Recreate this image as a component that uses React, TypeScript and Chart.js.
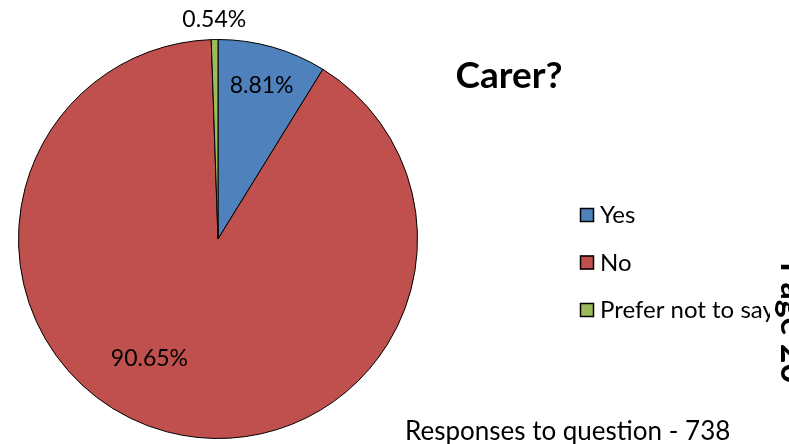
import React, { useEffect, useRef } from "react";
import { Chart, registerables } from "chart.js";

Chart.register(...registerables);

const categories = ["Yes", "No", "Prefer not to say"];
const values = [8.81, 90.65, 0.54];
const colors = ["#4F81BD", "#C0504D", "#9BBB59"];
const title = "Carer?";
const footnote = "Responses to question - 738";
const pageText = "Page 20";

// label placement: radius fraction and angle offset (deg) per slice
const labelRadius = [0.8, 0.69, 1.1];
const labelAngleOffset = [0, 15, 0];

const FONT = "Lato, 'Open Sans', sans-serif";

export default function App() {
  const ref = useRef<HTMLCanvasElement | null>(null);
  useEffect(() => {
    const canvas = ref.current!;
    const labelPlugin = {
      id: "labels",
      afterDatasetsDraw(chart: any) {
        const ctx = chart.ctx;
        const meta = chart.getDatasetMeta(0);
        ctx.save();
        ctx.fillStyle = "#000";
        ctx.font = `23px ${FONT}`;
        ctx.textAlign = "center";
        ctx.textBaseline = "middle";
        meta.data.forEach((arc: any, i: number) => {
          const p = arc.getProps(["x", "y", "startAngle", "endAngle", "outerRadius"], true);
          const mid = (p.startAngle + p.endAngle) / 2 + (labelAngleOffset[i] * Math.PI) / 180;
          const r = p.outerRadius * labelRadius[i];
          const x = p.x + Math.cos(mid) * r;
          const y = p.y + Math.sin(mid) * r;
          ctx.fillText(values[i].toFixed(2) + "%", x, y);
        });
        // title
        ctx.font = `bold 37px ${FONT}`;
        ctx.fillText(title, 509, 76);
        // legend
        ctx.save();
        ctx.beginPath();
        ctx.rect(0, 0, 770, 444);
        ctx.clip();
        ctx.textAlign = "left";
        ctx.textBaseline = "alphabetic";
        ctx.font = `24px ${FONT}`;
        categories.forEach((c, i) => {
          const y = 215 + i * 47.5;
          ctx.fillStyle = colors[i];
          ctx.fillRect(580, y - 7, 14, 14);
          ctx.strokeStyle = "#000";
          ctx.lineWidth = 1.5;
          ctx.strokeRect(580.5, y - 6.5, 13, 13);
          ctx.fillStyle = "#000";
          ctx.fillText(c, 600, y + 8);
        });
        ctx.restore();
        // footnote
        ctx.textAlign = "left";
        ctx.textBaseline = "alphabetic";
        ctx.font = `26px ${FONT}`;
        ctx.fillText(footnote, 405, 440);
        ctx.restore();
      },
    };
    const chart = new Chart(canvas, {
      type: "pie",
      data: {
        labels: categories,
        datasets: [
          {
            data: values,
            backgroundColor: colors,
            borderColor: "#000",
            borderWidth: 1,
          },
        ],
      },
      options: {
        animation: false,
        responsive: false,
        maintainAspectRatio: false,
        layout: { padding: { left: 18, top: 39, right: 371, bottom: 5 } },
        plugins: {
          legend: { display: false },
          tooltip: { enabled: false },
          title: { display: false },
        },
      },
      plugins: [labelPlugin],
    });
    return () => chart.destroy();
  }, []);
  return (
    <div style={{ position: "fixed", left: 0, top: 0, width: 789, height: 444, background: "#fff", overflow: "hidden" }}>
      <canvas ref={ref} width={789} height={444} style={{ width: 789, height: 444, display: "block" }} />
      <div
        style={{
          position: "absolute",
          left: 774,
          top: 262,
          transformOrigin: "0 0",
          transform: "rotate(90deg) translate(0, -40px)",
          font: `bold 34px ${FONT}`,
          whiteSpace: "nowrap",
          lineHeight: "40px",
          color: "#000",
        }}
      >
        {pageText}
      </div>
    </div>
  );
}
